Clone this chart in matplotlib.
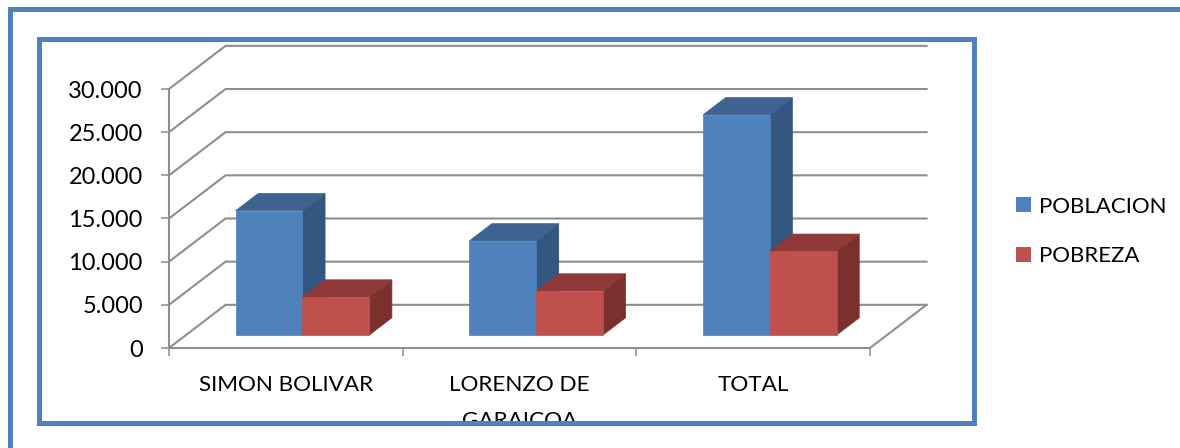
import matplotlib
matplotlib.use('Agg')
import matplotlib.pyplot as plt
from matplotlib.patches import Polygon, Rectangle, Patch
from matplotlib.transforms import Bbox

# datos
categorias = ['SIMON BOLIVAR', 'LORENZO DE\nGARAICOA', 'TOTAL']
poblacion = [14400, 10900, 25500]
pobreza = [4400, 5100, 9700]
ticks_y = [0, 5000, 10000, 15000, 20000, 25000, 30000]
etiquetas_y = ['0', '5.000', '10.000', '15.000', '20.000', '25.000', '30.000']

W, H = 1180, 448
plt.rcParams['font.family'] = ['Lato', 'DejaVu Sans']

# colores: frente, tapa, lado
azul = ('#4F81BD', '#3E6390', '#345580')
rojo = ('#C0504D', '#8F3A38', '#7C302E')
gris = '#8E8E8E'
marco = '#4F81BD'

# profundidad del "3D", en unidades de los ejes
prof_x = 0.242
prof_y = 5000

fig = plt.figure(figsize=(W / 100, H / 100), dpi=100)
ax = fig.add_axes([169 / W, 1 - 348 / H, 701 / W, 259 / H])
ax.set_xlim(0, 3)
ax.set_ylim(0, 30000)
ax.patch.set_visible(False)
for s in ['top', 'right', 'bottom', 'left']:
    ax.spines[s].set_visible(False)


def proy(x, y, z):
    return (x + z * prof_x, y + z * prof_y)


# rejilla: pared lateral y pared del fondo
for v in ticks_y:
    ax.plot(*zip(proy(0, v, 0), proy(0, v, 1), proy(3, v, 1)),
            color=gris, lw=1.5, clip_on=False, zorder=1)
# eje vertical y suelo
ax.plot([0, 0], [0, 30000], color=gris, lw=1.5, clip_on=False, zorder=1)
ax.plot(*zip(proy(0, 0, 0), proy(3, 0, 0), proy(3, 0, 1)),
        color=gris, lw=1.5, clip_on=False, zorder=1)


def barra(x, valor, ancho, colores, z):
    z0, z1 = 0.3, 0.7
    frente = [proy(x, 0, z0), proy(x + ancho, 0, z0),
              proy(x + ancho, valor, z0), proy(x, valor, z0)]
    tapa = [proy(x, valor, z0), proy(x + ancho, valor, z0),
            proy(x + ancho, valor, z1), proy(x, valor, z1)]
    lado = [proy(x + ancho, 0, z0), proy(x + ancho, 0, z1),
            proy(x + ancho, valor, z1), proy(x + ancho, valor, z0)]
    for puntos, c in [(lado, colores[2]), (tapa, colores[1]), (frente, colores[0])]:
        ax.add_patch(Polygon(puntos, closed=True, facecolor=c, edgecolor=c,
                             lw=0.5, clip_on=False, zorder=z))


ancho_barra = 0.286
margen = 0.2125
for i in range(len(categorias)):
    barra(i + margen, poblacion[i], ancho_barra, azul, 3)
    barra(i + margen + ancho_barra, pobreza[i], ancho_barra, rojo, 4)

# ticks
ax.set_yticks(ticks_y)
ax.set_yticklabels(etiquetas_y)
ax.tick_params(axis='y', length=5.8, width=1.1, color=gris, pad=13,
               labelsize=17, labelcolor='black')
ax.set_xticks([0, 1, 2, 3])
ax.set_xticklabels([])
ax.tick_params(axis='x', which='major', length=5.8, width=1.1, color=gris)
ax.set_xticks([0.5, 1.5, 2.5], minor=True)
ax.set_xticklabels(categorias, minor=True, linespacing=2.0)
ax.tick_params(axis='x', which='minor', length=0, pad=19.5, labelsize=16.2,
               labelcolor='black')

# GARAICOA queda cortado por el marco
recorte = Bbox([[0, H - 423], [W, H]])
for lab in ax.get_xticklabels(minor=True):
    lab.set_clip_box(recorte)
    lab.set_clip_on(True)

# marcos
fig.add_artist(Rectangle((9.5 / W, -0.1), 1.1, 1.1 - 9.5 / H,
                         transform=fig.transFigure, fill=False, edgecolor=marco,
                         lw=3.6, zorder=5))
fig.add_artist(Rectangle((38.5 / W, 1 - 422.5 / H), (973.5 - 38.5) / W, (422.5 - 38.5) / H,
                         transform=fig.transFigure, fill=False, edgecolor=marco,
                         lw=3.6, zorder=5))

# leyenda
fig.legend(handles=[Patch(facecolor=azul[0], label='POBLACION'),
                    Patch(facecolor=rojo[0], label='POBREZA')],
           loc='center left', bbox_to_anchor=(1016 / W, 1 - 231.5 / H), frameon=False,
           fontsize=16, handlelength=0.68, handleheight=0.68,
           handletextpad=0.36, labelspacing=1.35, borderpad=0, borderaxespad=0)

plt.savefig('out.png', dpi=100)
